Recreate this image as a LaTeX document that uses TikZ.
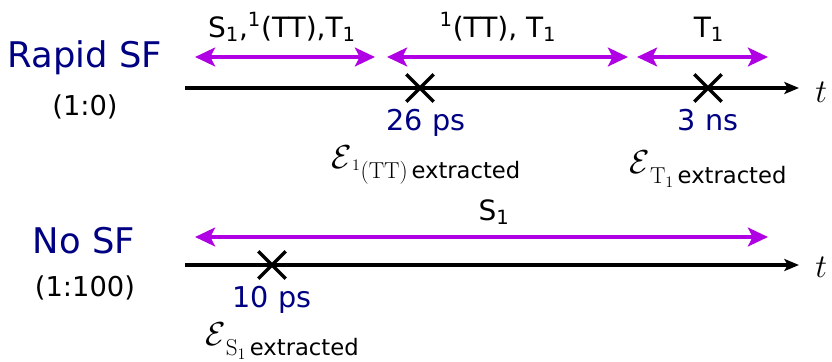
\documentclass[tikz,border=0pt]{standalone}
\usepackage{amsmath,amssymb}
\usepackage[no-math]{fontspec}
\setmainfont{DejaVu Sans}
\usepackage{xcolor}
\usetikzlibrary{arrows.meta, positioning, shapes.misc}
\definecolor{sfnavy}{RGB}{0,0,130}
\definecolor{sfviolet}{RGB}{176,0,228}
\newcommand{\extr}[1]{{\fontsize{28}{30}\selectfont$\mathcal{E}$}%
  \raisebox{-8pt}{\fontsize{17}{20}\selectfont$#1$\,extracted}}
\tikzset{
  axis/.style   = {line width=3pt, -{Stealth[length=11pt, width=9pt, inset=2.5pt]}},
  span/.style   = {line width=3.6pt, sfviolet,
                   {Stealth[length=15pt, width=14pt, inset=3.5pt]}-{Stealth[length=15pt, width=14pt, inset=3.5pt]}},
  xmark/.style  = {cross out, draw, line width=2.6pt, minimum size=18pt, inner sep=0pt},
  sample/.style = {text=sfnavy, font=\fontsize{26.5}{30}\selectfont},
  ratio/.style  = {font=\fontsize{20.5}{24}\selectfont},
  tval/.style   = {text=sfnavy, font=\fontsize{21.5}{25}\selectfont, anchor=base},
  state/.style  = {font=\fontsize{21}{25}\selectfont, anchor=base},
  eps/.style    = {anchor=base, inner sep=0pt},
  tlab/.style   = {font=\fontsize{45}{48}\selectfont, anchor=base west, inner sep=0pt},
}

\begin{document}
\begin{tikzpicture}[x=0.75pt, y=-0.75pt]
  \useasboundingbox (0,0) rectangle (832,361);

  % sample labels
  \node[sample] (rapid) at (85,58) {Rapid SF};
  \node[ratio] (rapidr) at (85,107) {(1:0)};
  \node[sample] (nosf) at (84,241) {No SF};
  \node[ratio] (nosfr) at (85,288) {(1:100)};

  % time axes
  \coordinate (ra0) at (185,88);
  \coordinate (ra1) at (799,88);
  \coordinate (na0) at (185,265);
  \coordinate (na1) at (799,265);
  \draw[axis] (ra0) -- (ra1);
  \draw[axis] (na0) -- (na1);
  \node[tlab] (rt) at (815,102) {$t$};
  \node[tlab] (nt) at (815,277) {$t$};

  % populated states
  \coordinate (s1a) at (195,57);  \coordinate (s1b) at (375,57);
  \coordinate (s2a) at (387,57);  \coordinate (s2b) at (628,57);
  \coordinate (s3a) at (637,57);  \coordinate (s3b) at (768,57);
  \coordinate (s4a) at (195,237); \coordinate (s4b) at (768,237);
  \draw[span] (s1a) -- (s1b);
  \draw[span] (s2a) -- (s2b);
  \draw[span] (s3a) -- (s3b);
  \draw[span] (s4a) -- (s4b);
  \node[state] (st1) at (282,37) {S\textsubscript{1},\textsuperscript{1}(TT),T\textsubscript{1}};
  \node[state] (st2) at (498,37) {\textsuperscript{1}(TT), T\textsubscript{1}};
  \node[state] (st3) at (709,37) {T\textsubscript{1}};
  \node[state] (st4) at (494,220) {S\textsubscript{1}};

  % extraction times
  \node[xmark] (x26) at (420,88) {};
  \node[xmark] (x3) at (708,88) {};
  \node[xmark] (x10) at (272,265) {};
  \node[tval] (t26) at (426,130) {26 ps};
  \node[tval] (t3) at (708,130) {3 ns};
  \node[tval] (t10) at (272,307) {10 ps};
  \node[eps] (e26) at (426,168) {\extr{\mathrm{^1(TT)}}};
  \node[eps] (e3) at (708,173) {\extr{\mathrm{T}_1}};
  \node[eps] (e10) at (282,345) {\extr{\mathrm{S}_1}};
\end{tikzpicture}
\end{document}
